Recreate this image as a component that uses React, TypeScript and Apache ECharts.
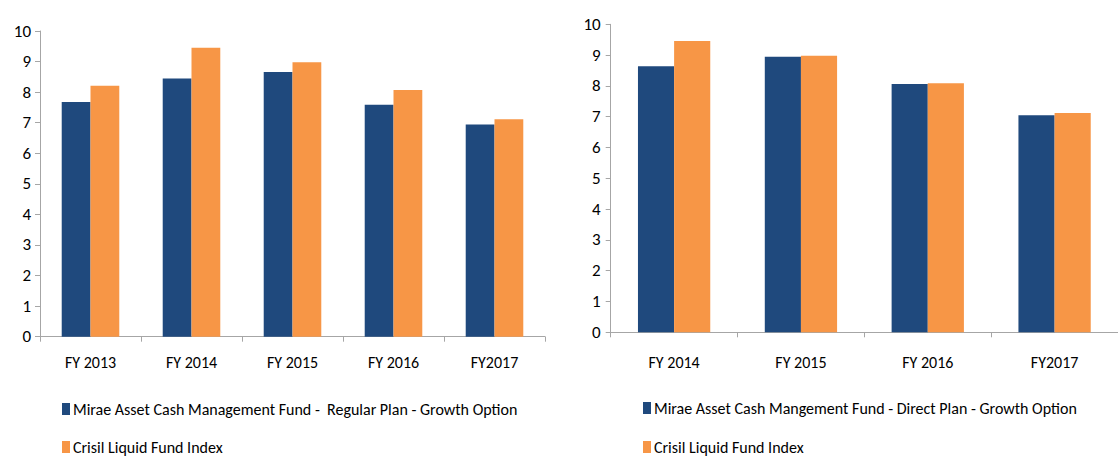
import React, { useEffect, useRef } from "react";
import * as echarts from "echarts";

const leftCategories = ["FY 2013", "FY 2014", "FY 2015", "FY 2016", "FY2017"];
const leftFund = [7.68, 8.45, 8.66, 7.59, 6.94];
const leftIndex = [8.21, 9.45, 8.98, 8.07, 7.11];

const rightCategories = ["FY 2014", "FY 2015", "FY 2016", "FY2017"];
const rightFund = [8.64, 8.95, 8.06, 7.05];
const rightIndex = [9.46, 8.98, 8.09, 7.12];

const leftFundName = "Mirae Asset Cash Management Fund -  Regular Plan - Growth Option";
const rightFundName = "Mirae Asset Cash Mangement Fund - Direct Plan - Growth Option";
const indexName = "Crisil Liquid Fund Index";

const NAVY = "#1F497D";
const ORANGE = "#F79646";
const AXIS = "#A6A6A6";
const FONT = "Carlito, 'Liberation Sans Narrow', 'Open Sans', sans-serif";

export default function App() {
  const ref = useRef<HTMLDivElement>(null);
  useEffect(() => {
    if (!ref.current) return;
    const chart = echarts.init(ref.current, undefined, { renderer: "svg" });
    const yAxisBase = (gridIndex: number, margin: number) => ({
      type: "value",
      gridIndex,
      min: 0,
      max: 10,
      interval: 1,
      axisLine: { show: true, lineStyle: { color: AXIS, width: 1 } },
      axisTick: { show: true, length: 5, lineStyle: { color: AXIS } },
      splitLine: { show: false },
      axisLabel: { color: "#000", fontSize: 17, fontFamily: FONT, margin },
    });
    const xAxisBase = (gridIndex: number, data: string[], margin: number) => ({
      type: "category",
      gridIndex,
      data,
      axisLine: { show: true, lineStyle: { color: AXIS, width: 1 } },
      axisTick: { show: true, length: 5, alignWithLabel: false, lineStyle: { color: AXIS } },
      axisLabel: { color: "#000", fontSize: 16, fontFamily: FONT, margin },
    });
    const legendItem = (left: number, top: number, name: string) => ({
      orient: "horizontal",
      left,
      top,
      itemWidth: 8,
      itemHeight: 12,
      itemGap: 0,
      padding: 0,
      icon: "rect",
      textStyle: { fontSize: 16, color: "#000", fontFamily: FONT, padding: [0, 0, 0, -2] },
      data: [name],
      selectedMode: false,
    });
    const barBase = { type: "bar", barGap: "0%", barCategoryGap: "43%" };
    chart.setOption({
      animation: false,
      grid: [
        { left: 40, width: 505, top: 31, height: 305.7 },
        { left: 610.7, width: 520, top: 24.3, height: 308 },
      ],
      xAxis: [xAxisBase(0, leftCategories, 18), xAxisBase(1, rightCategories, 22)],
      yAxis: [yAxisBase(0, 9), yAxisBase(1, 10)],
      legend: [
        legendItem(62, 401, leftFundName),
        legendItem(62, 439, indexName),
        legendItem(643, 400, rightFundName),
        legendItem(643, 439, indexName),
      ],
      series: [
        { ...barBase, name: leftFundName, xAxisIndex: 0, yAxisIndex: 0, data: leftFund, itemStyle: { color: NAVY } },
        { ...barBase, name: indexName, xAxisIndex: 0, yAxisIndex: 0, data: leftIndex, itemStyle: { color: ORANGE } },
        { ...barBase, name: rightFundName, xAxisIndex: 1, yAxisIndex: 1, data: rightFund, itemStyle: { color: NAVY } },
        { ...barBase, name: indexName, xAxisIndex: 1, yAxisIndex: 1, data: rightIndex, itemStyle: { color: ORANGE } },
      ],
    });
    return () => chart.dispose();
  }, []);
  return (
    <div
      ref={ref}
      style={{ position: "fixed", left: 0, top: 0, width: 1118, height: 457, background: "#fff" }}
    />
  );
}
